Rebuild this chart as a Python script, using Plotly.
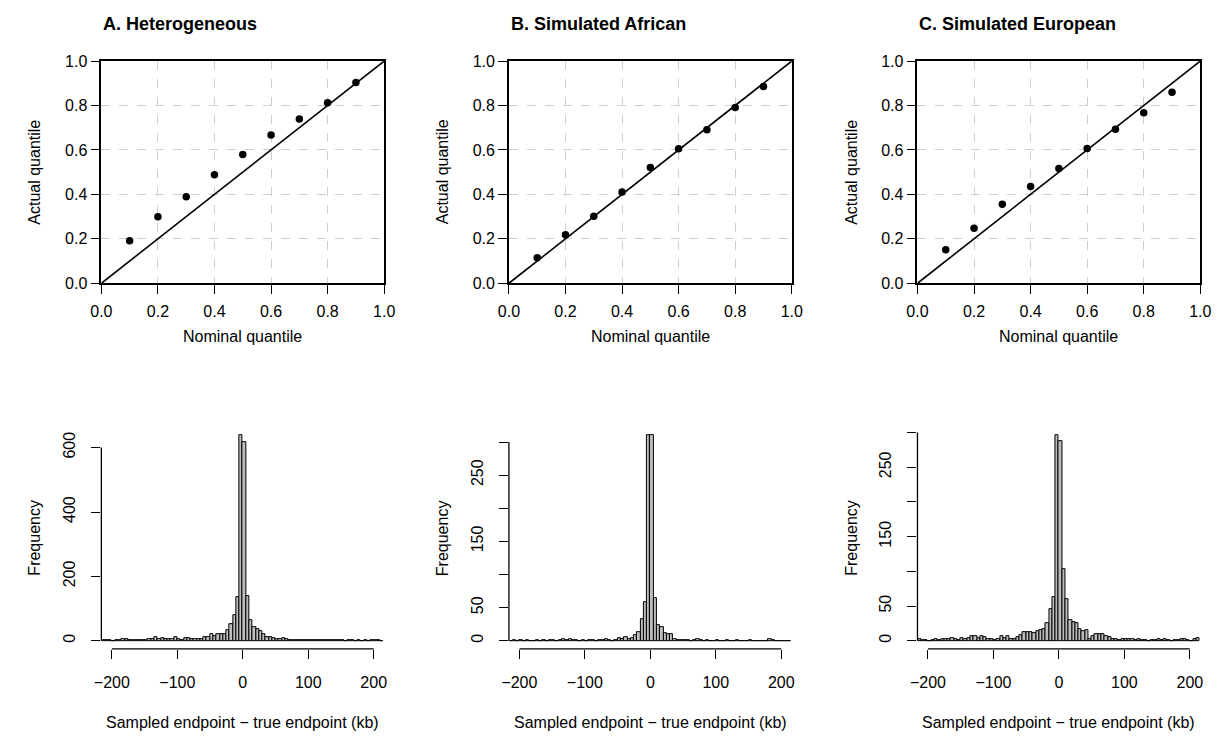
import plotly.graph_objects as go

# ---------------- data ----------------
nominal = [0.1, 0.2, 0.3, 0.4, 0.5, 0.6, 0.7, 0.8, 0.9]
actual_het = [0.191, 0.299, 0.389, 0.488, 0.579, 0.667, 0.739, 0.812, 0.903]
actual_afr = [0.115, 0.218, 0.302, 0.411, 0.521, 0.605, 0.691, 0.791, 0.885]
actual_eur = [0.151, 0.247, 0.356, 0.436, 0.516, 0.607, 0.693, 0.767, 0.860]

# histogram bins: 5 kb wide, starting at -215 kb
bin_left = list(range(-215, 215, 5))
counts_het = [1, 3, 2, 0, 1, 2, 4, 4, 3, 2,
              3, 3, 2, 3, 5, 6, 10, 6, 8, 4,
              5, 6, 12, 4, 3, 8, 8, 5, 4, 6,
              5, 10, 12, 21, 14, 22, 19, 22, 32, 51,
              81, 134, 638, 618, 137, 65, 43, 36, 30, 22,
              10, 10, 7, 5, 4, 7, 4, 3, 2, 1,
              2, 1, 2, 1, 1, 2, 1, 2, 3, 2,
              3, 2, 1, 1, 0, 1, 1, 0, 1, 0,
              1, 0, 1, 2, 1, 0]
counts_afr = [0, 1, 0, 1, 0, 1, 0, 0, 1, 0,
              1, 0, 1, 1, 0, 1, 2, 1, 3, 1,
              1, 0, 1, 0, 1, 1, 0, 1, 1, 2,
              1, 0, 1, 4, 3, 5, 3, 4, 8, 13,
              33, 59, 310, 310, 64, 23, 21, 12, 10, 10,
              2, 1, 1, 1, 1, 0, 1, 3, 1, 0,
              1, 0, 0, 1, 0, 0, 1, 0, 0, 1,
              0, 0, 0, 1, 0, 0, 0, 0, 0, 2,
              1, 0, 0, 0, 0, 0]
counts_eur = [2, 1, 1, 0, 1, 3, 1, 2, 3, 2,
              4, 2, 1, 4, 3, 4, 7, 6, 4, 7,
              5, 3, 2, 1, 2, 6, 4, 7, 2, 3,
              5, 8, 13, 12, 12, 11, 14, 15, 16, 26,
              46, 63, 296, 288, 103, 60, 29, 27, 25, 16,
              14, 15, 3, 6, 9, 9, 9, 6, 5, 3,
              3, 1, 2, 2, 3, 2, 1, 2, 1, 1,
              0, 1, 1, 2, 1, 2, 1, 0, 1, 1,
              2, 3, 1, 0, 2, 4]

qq_ticks = [0.0, 0.2, 0.4, 0.6, 0.8, 1.0]
qq_ticktext = ["0.0", "0.2", "0.4", "0.6", "0.8", "1.0"]
hist_xticks = [-200, -100, 0, 100, 200]
hist_xticktext = ["\u2212200", "\u2212100", "0", "100", "200"]
het_yticks = [0, 200, 400, 600]
het_yticktext = ["0", "200", "400", "600"]
sim_yticks = [0, 50, 100, 150, 200, 250, 300]
sim_yticktext = ["0", "50", "", "150", "", "250", ""]

titles = ["A. Heterogeneous", "B. Simulated African", "C. Simulated European"]

# ---------------- layout helpers ----------------
W, H = 1228, 742
FONT = "Liberation Sans, Arial, Helvetica, sans-serif"
lefts = [92, 507, 923]
width = 288
qq_top, qq_bot = 54.3, 281.7
h_top, h_bot = 429.0, 656.0


def xdom(l):
    return [l / W, (l + width) / W]


def ydom(top, bot):
    return [1 - bot / H, 1 - top / H]


fig = go.Figure()

qq_series = [actual_het, actual_afr, actual_eur]
hist_series = [counts_het, counts_afr, counts_eur]
hist_yt = [(het_yticks, het_yticktext), (sim_yticks, sim_yticktext), (sim_yticks, sim_yticktext)]

bin_centers = [b + 2.5 for b in bin_left]

for k in range(3):
    xa = "x" if k == 0 else f"x{k + 1}"
    ya = "y" if k == 0 else f"y{k + 1}"
    # diagonal reference line
    fig.add_trace(go.Scatter(x=[0, 1], y=[0, 1], mode="lines",
                             line=dict(color="black", width=1.6),
                             xaxis=xa, yaxis=ya, showlegend=False, hoverinfo="skip"))
    fig.add_trace(go.Scatter(x=nominal, y=qq_series[k], mode="markers",
                             marker=dict(color="black", size=7.5),
                             xaxis=xa, yaxis=ya, showlegend=False))
    # histogram
    hx = f"x{k + 4}"
    hy = f"y{k + 4}"
    fig.add_trace(go.Bar(x=bin_centers, y=hist_series[k], width=5,
                         marker=dict(color="#bdbdbd", line=dict(color="black", width=1)),
                         xaxis=hx, yaxis=hy, showlegend=False))

axis_common = dict(ticks="outside", ticklen=9, tickwidth=1.3, tickcolor="black",
                   tickfont=dict(family=FONT, size=16, color="black"),
                   zeroline=False)

layout = dict(
    width=W, height=H, margin=dict(l=0, r=0, t=0, b=0),
    paper_bgcolor="white", plot_bgcolor="white",
    bargap=0, font=dict(family=FONT, color="black"),
    shapes=[], annotations=[],
)

for k in range(3):
    xkey = "xaxis" if k == 0 else f"xaxis{k + 1}"
    ykey = "yaxis" if k == 0 else f"yaxis{k + 1}"
    xa = "x" if k == 0 else f"x{k + 1}"
    ya = "y" if k == 0 else f"y{k + 1}"
    layout[xkey] = dict(domain=xdom(lefts[k]), range=[0, 1], anchor=ya,
                        tickvals=qq_ticks, ticktext=qq_ticktext,
                        showgrid=True, gridcolor="#cfcfcf", griddash="dash", gridwidth=1.3,
                        showline=True, mirror=True, linecolor="black", linewidth=1.6,
                        ticklabelstandoff=4, **axis_common)
    layout[ykey] = dict(domain=ydom(qq_top, qq_bot), range=[0, 1], anchor=xa,
                        tickvals=qq_ticks, ticktext=qq_ticktext,
                        showgrid=True, gridcolor="#cfcfcf", griddash="dash", gridwidth=1.3,
                        showline=True, mirror=True, linecolor="black", linewidth=1.6,
                        **axis_common)
    # histogram axes
    hxk = f"xaxis{k + 4}"
    hyk = f"yaxis{k + 4}"
    hx = f"x{k + 4}"
    hy = f"y{k + 4}"
    ymax = max(hist_series[k])
    yt, ytt = hist_yt[k]
    layout[hxk] = dict(domain=xdom(lefts[k]), range=[-216, 216], anchor=hy,
                       tickvals=hist_xticks, ticktext=hist_xticktext,
                       showgrid=False, showline=False, ticklabelstandoff=10, **axis_common)
    layout[hyk] = dict(domain=ydom(h_top, h_bot), range=[-0.04 * ymax, 1.04 * ymax], anchor=hx,
                       tickvals=yt, ticktext=ytt, tickangle=-90,
                       showgrid=False, showline=False, ticklabelstandoff=10, **axis_common)
    # R-style axis lines spanning first to last tick
    layout["shapes"].append(dict(type="line", xref=hx, yref=f"{hy} domain",
                                 x0=hist_xticks[0], x1=hist_xticks[-1], y0=0, y1=0,
                                 line=dict(color="black", width=1.3)))
    layout["shapes"].append(dict(type="line", xref=f"{hx} domain", yref=hy,
                                 x0=0, x1=0, y0=yt[0], y1=yt[-1],
                                 line=dict(color="black", width=1.3)))
    # titles and axis labels
    layout["annotations"].append(dict(text=f"<b>{titles[k]}</b>", xref="paper", yref="paper",
                                      x=lefts[k] / W, y=1 - 16 / H, xanchor="left", yanchor="middle",
                                      showarrow=False, font=dict(family=FONT, size=18, color="black")))
    cx = (lefts[k] + width / 2) / W
    layout["annotations"].append(dict(text="Nominal quantile", xref="paper", yref="paper",
                                      x=cx, y=1 - 336 / H, xanchor="center", yanchor="middle",
                                      showarrow=False, font=dict(family=FONT, size=16, color="black")))
    layout["annotations"].append(dict(text="Sampled endpoint \u2212 true endpoint (kb)", xref="paper", yref="paper",
                                      x=cx, y=1 - 731 / H, xanchor="center", yanchor="middle",
                                      showarrow=False, font=dict(family=FONT, size=16, color="black")))
    lx = (lefts[k] - 68) / W
    layout["annotations"].append(dict(text="Actual quantile", xref="paper", yref="paper",
                                      x=lx, y=1 - ((qq_top + qq_bot) / 2) / H, textangle=-90,
                                      xanchor="center", yanchor="middle",
                                      showarrow=False, font=dict(family=FONT, size=16, color="black")))
    layout["annotations"].append(dict(text="Frequency", xref="paper", yref="paper",
                                      x=lx, y=1 - ((h_top + h_bot) / 2) / H, textangle=-90,
                                      xanchor="center", yanchor="middle",
                                      showarrow=False, font=dict(family=FONT, size=16, color="black")))

fig.update_layout(**layout)
fig.write_html("out.html")
